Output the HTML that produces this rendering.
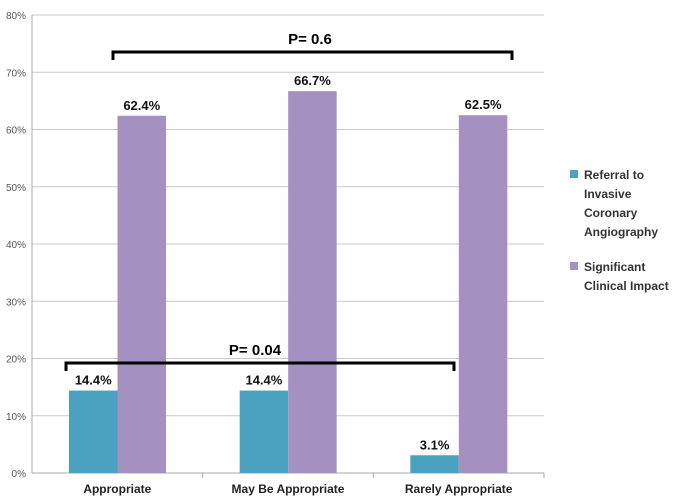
<!DOCTYPE html>
<html><head><meta charset="utf-8"><style>
body{margin:0;background:#fff;}
svg text{font-family:"Liberation Sans",Arial,sans-serif;}
</style></head><body>
<svg width="685" height="497">
<g id="grid"></g><g id="bars"></g><g id="labels"></g>
<g>
<path d="M113,60 V52 H512 V60" fill="none" stroke="#000" stroke-width="3"/>
<text x="310" y="44" text-anchor="middle" font-size="15" font-weight="bold">P= 0.6</text>
</g>
<g>
<path d="M66,371 V363 H454 V371" fill="none" stroke="#000" stroke-width="3"/>
<text x="255" y="355" text-anchor="middle" font-size="15" font-weight="bold">P= 0.04</text>
</g>
<g font-size="12" font-weight="bold" fill="#333">
<rect x="570" y="170" width="8" height="8" fill="#4aa1c0"/>
<text x="584" y="179">Referral to</text><text x="584" y="198">Invasive</text><text x="584" y="217">Coronary</text><text x="584" y="236">Angiography</text>
<rect x="570" y="262" width="8" height="8" fill="#a491c1"/>
<text x="584" y="271">Significant</text><text x="584" y="290">Clinical Impact</text>
</g>
</svg>
<script>
const categories=["Appropriate","May Be Appropriate","Rarely Appropriate"];
const referral=[14.4,14.4,3.1];
const impact=[62.4,66.7,62.5];
const ticks=[0,10,20,30,40,50,60,70,80];
const ns="http://www.w3.org/2000/svg";
const x0=32,x1=544,y0=473,y1=15,ymax=80;
const cw=(x1-x0)/categories.length;
const Y=v=>y0-(v/ymax)*(y0-y1);
function mk(tag,attrs,parent){const e=document.createElementNS(ns,tag);for(const k in attrs)e.setAttribute(k,attrs[k]);parent.appendChild(e);return e;}
const g=document.getElementById('grid'),b=document.getElementById('bars'),l=document.getElementById('labels');
ticks.forEach(t=>{
 const ln=mk('line',{x1:x0,x2:x1,y1:Y(t),y2:Y(t),stroke:t===0?'#aaa':'#c8c8c8','stroke-width':1},g);
 
 
 const tx=mk('text',{x:26,y:Y(t)+4,'text-anchor':'end','font-size':10,fill:'#555'},g);
 tx.textContent=t+'%';
 
 
});
const ax=mk('line',{x1:x0,x2:x0,y1:y1,y2:y0,stroke:'#aaa'},g);


categories.forEach((c,i)=>{
 const cx=x0+i*cw;
 const tk=mk('line',{x1:cx+cw,x2:cx+cw,y1:y0,y2:y0+5,stroke:'#aaa'},g);
 
 
 const bw=48.5,off=37;
 [[referral[i],'#4aa1c0','referral'],[impact[i],'#a491c1','impact']].forEach(([v,col,nm],j)=>{
  const bx=cx+off+j*bw;
  const r=mk('rect',{x:bx,y:Y(v),width:bw,height:y0-Y(v),fill:col},b);
  
  
  const t=mk('text',{x:bx+bw/2,y:Y(v)-6,'text-anchor':'middle','font-size':13,'font-weight':'bold',fill:'#111'},l);
  t.textContent=v.toFixed(1)+'%';
  
  
 });
 const ct=mk('text',{x:cx+cw/2,y:493,'text-anchor':'middle','font-size':12,'font-weight':'bold',fill:'#222'},l);
 ct.textContent=c;
 
 
});
</script>
</body></html>
